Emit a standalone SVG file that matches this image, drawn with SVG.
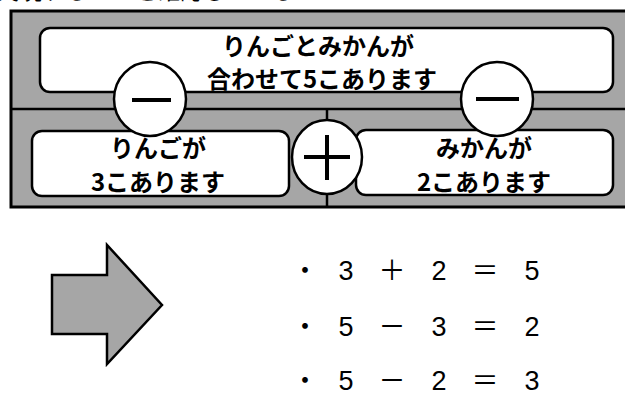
<svg xmlns="http://www.w3.org/2000/svg" width="625" height="394" viewBox="0 0 625 394">
<style>
.frame{fill:#a6a6a6;stroke:#000;stroke-width:3}
.div{stroke:#000;stroke-width:2.5;fill:none}
.box{fill:#fff;stroke:#000;stroke-width:2.5}
.circ{fill:#fff;stroke:#000;stroke-width:2.5}
.sym{stroke:#000;stroke-width:4;fill:none}
.jp{font-family:"Noto Sans CJK JP","Noto Sans CJK SC",sans-serif;font-weight:bold;font-size:24px;fill:#000;text-anchor:middle}
.top{font-family:"Noto Sans CJK JP",sans-serif;font-size:23px;fill:#000}
.eq{font-family:"Liberation Sans","Noto Sans CJK JP",sans-serif;font-size:27px;fill:#000;text-anchor:middle}
</style>
<text class="top" x="-4" y="-1">実現することを確認している</text>
<g id="frame">
<rect class="frame" x="11" y="11" width="630" height="196"/>
</g>
<g id="connectors">
<line class="div" x1="11" y1="109" x2="625" y2="109"/>
<line class="div" x1="327" y1="109" x2="327" y2="207"/>
</g>
<g id="total">
<rect class="box" x="40" y="28" width="573" height="64" rx="10"/>
<text class="jp" x="318" y="55">りんごとみかんが</text>
<text class="jp" x="322" y="88">合わせて5こあります</text>
</g>
<g id="apples">
<rect class="box" x="32" y="131" width="257" height="65" rx="10"/>
<text class="jp" x="158" y="157">りんごが</text>
<text class="jp" x="158" y="191">3こあります</text>
</g>
<g id="oranges">
<rect class="box" x="356" y="130" width="257" height="65" rx="10"/>
<text class="jp" x="484" y="157">みかんが</text>
<text class="jp" x="484" y="191">2こあります</text>
</g>
<g id="minus-left">
<ellipse class="circ" cx="150" cy="99" rx="36" ry="37"/>
<line class="sym" x1="132" y1="100" x2="171" y2="100"/>
</g>
<g id="minus-right">
<ellipse class="circ" cx="497" cy="99" rx="36" ry="37"/>
<line class="sym" x1="476" y1="99" x2="519" y2="99"/>
</g>
<g id="plus">
<ellipse class="circ" cx="327" cy="157" rx="35" ry="37"/>
<line class="sym" x1="304" y1="157" x2="350" y2="157"/>
<line class="sym" x1="327" y1="135" x2="327" y2="180"/>
</g>
<g id="arrow">
<polygon points="52,275 107,275 107,245 162,305 107,364 107,334 52,334" fill="#a6a6a6" stroke="#000" stroke-width="2.5"/>
</g>
<g id="equations">
<text class="eq" x="305 346 392 439 485 532" y="280">・3＋2＝5</text>
<text class="eq" x="305 346 392 439 485 532" y="336">・5－3＝2</text>
<text class="eq" x="305 346 392 439 485 532" y="390">・5－2＝3</text>
</g>
</svg>
